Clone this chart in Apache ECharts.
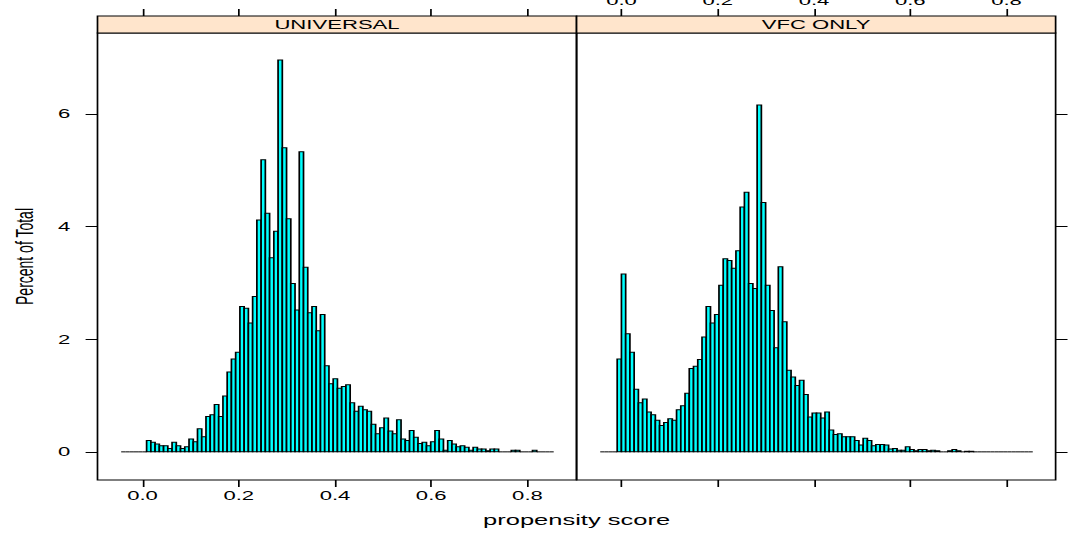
<!DOCTYPE html>
<html>
<head>
<meta charset="utf-8">
<title>propensity score</title>
<script src="https://cdn.jsdelivr.net/npm/echarts@6/dist/echarts.min.js"></script>
<style>
  html, body { margin: 0; padding: 0; background: #fff; overflow: hidden; }
  /* the original lattice plot was stretched sideways, so draw it narrow and widen it */
  #main { width: 630px; height: 540px; transform: scaleX(1.7); transform-origin: 0 0; }
</style>
</head>
<body>
<div id="main"></div>
<script>
  // histogram breaks: 102 equal bins
  var binStart = -0.0443;
  var binWidth = 0.008812;

  var panels = ['UNIVERSAL', 'VFC ONLY'];
  var xTicks = [0, 0.2, 0.4, 0.6, 0.8];
  var yTicks = [0, 2, 4, 6];

  // percent of total per bin
  var universal = [
    0, 0, 0, 0, 0, 0, 0.20, 0.17, 0.14, 0.11,
    0.11, 0.06, 0.17, 0.11, 0.06, 0.09, 0.23, 0.18, 0.41, 0.27,
    0.63, 0.66, 0.84, 0.63, 0.99, 1.42, 1.65, 1.77, 2.58, 2.55,
    2.29, 2.76, 4.12, 5.19, 4.24, 3.45, 3.92, 6.96, 5.40, 4.14,
    2.99, 2.52, 5.33, 3.28, 2.47, 2.58, 2.15, 2.44, 1.53, 1.21,
    1.30, 1.13, 1.16, 1.19, 0.87, 0.72, 0.81, 0.75, 0.72, 0.49,
    0.32, 0.43, 0.60, 0.37, 0.32, 0.57, 0.23, 0.20, 0.38, 0.26,
    0.15, 0.17, 0.11, 0.18, 0.38, 0.23, 0.03, 0.20, 0.14, 0.09,
    0.11, 0.08, 0.03, 0.08, 0.05, 0.05, 0.02, 0.05, 0.05, 0,
    0, 0, 0.03, 0.03, 0, 0, 0, 0.03, 0, 0,
    0, 0
  ];
  var vfcOnly = [
    0, 0, 0, 0, 1.65, 3.16, 2.10, 1.77, 1.11, 0.87,
    0.94, 0.71, 0.66, 0.56, 0.47, 0.52, 0.59, 0.56, 0.75, 0.82,
    1.04, 1.48, 1.52, 1.64, 2.04, 2.58, 2.29, 2.44, 2.96, 3.43,
    3.40, 3.26, 3.57, 4.35, 4.61, 2.99, 2.90, 6.16, 4.43, 2.96,
    2.51, 1.85, 3.29, 2.31, 1.45, 1.33, 1.18, 1.27, 1.02, 0.62,
    0.69, 0.69, 0.60, 0.71, 0.39, 0.31, 0.32, 0.27, 0.27, 0.27,
    0.20, 0.12, 0.24, 0.20, 0.11, 0.13, 0.13, 0.12, 0.05, 0.06,
    0.03, 0.03, 0.09, 0.04, 0.02, 0.04, 0.04, 0.02, 0.03, 0.02,
    0, 0, 0.02, 0.04, 0.02, 0, 0.01, 0.01, 0, 0,
    0, 0, 0, 0, 0, 0, 0, 0, 0, 0,
    0, 0
  ];

  var font = "'Liberation Sans', Arial, Helvetica, sans-serif";
  var top0 = 33, panelH = 447, panelW = 281.8;
  var lefts = [57.35, 339.15];
  var stripTop = 16;

  function toBins(values) {
    return values.map(function (v, i) {
      return [binStart + i * binWidth, binStart + (i + 1) * binWidth, v];
    });
  }

  function renderBin(params, api) {
    var lo = api.coord([api.value(0), 0]);
    var hi = api.coord([api.value(1), api.value(2)]);
    if (api.value(2) === 0) {
      return {
        type: 'line',
        shape: { x1: lo[0], y1: lo[1], x2: hi[0], y2: lo[1] },
        style: { stroke: '#000', lineWidth: 1 }
      };
    }
    return {
      type: 'rect',
      shape: { x: lo[0], y: hi[1], width: hi[0] - lo[0], height: lo[1] - hi[1] },
      style: { fill: '#00ffff', stroke: '#000', lineWidth: 1 }
    };
  }

  function xAxis(grid, pos, labels) {
    return {
      type: 'value', gridIndex: grid, position: pos,
      offset: pos === 'top' ? top0 - stripTop : 0,
      min: -0.0935, max: 0.902,
      splitLine: { show: false },
      axisLine: { show: false, onZero: false },
      axisTick: { show: true, customValues: xTicks, length: 7, inside: false,
                  lineStyle: { color: '#000', width: 1 } },
      axisLabel: { show: labels, customValues: xTicks, margin: 9,
                   color: '#000', fontSize: 13, fontFamily: font,
                   formatter: function (v) { return v.toFixed(1); } }
    };
  }

  function yAxis(grid, pos, labels) {
    return {
      type: 'value', gridIndex: grid, position: pos,
      min: -0.5, max: 7.44,
      splitLine: { show: false },
      axisLine: { show: false, onZero: false },
      axisTick: { show: true, customValues: yTicks, length: 7,
                  lineStyle: { color: '#000', width: 1 } },
      axisLabel: { show: labels, customValues: yTicks, margin: 16,
                   color: '#000', fontSize: 13, fontFamily: font }
    };
  }

  var graphics = [];
  panels.forEach(function (name, i) {
    graphics.push({
      type: 'rect', z: 10,
      shape: { x: lefts[i], y: stripTop, width: panelW, height: top0 - stripTop },
      style: { fill: '#ffe5cc', stroke: '#000', lineWidth: 1 }
    });
    graphics.push({
      type: 'text', z: 11,
      x: lefts[i] + panelW / 2, y: (stripTop + top0) / 2 + 0.5,
      style: { text: name, fill: '#000', font: '13px ' + font,
               align: 'center', verticalAlign: 'middle' }
    });
  });
  graphics.push({
    type: 'text', x: lefts[1], y: 520,
    style: { text: 'propensity score', fill: '#000', font: '15px ' + font,
             align: 'center', verticalAlign: 'middle' }
  });
  graphics.push({
    type: 'text', x: 14.1, y: top0 + panelH / 2, rotation: Math.PI / 2,
    style: { text: 'Percent of Total', fill: '#000', font: '14px ' + font,
             align: 'center', verticalAlign: 'middle' }
  });

  var chart = echarts.init(document.getElementById('main'), null, { renderer: 'svg' });
  chart.setOption({
    animation: false,
    backgroundColor: '#fff',
    grid: lefts.map(function (l) {
      return { left: l, top: top0, width: panelW, height: panelH,
               outerBoundsMode: 'none',
               show: true, borderColor: '#000', borderWidth: 1,
               backgroundColor: 'transparent' };
    }),
    xAxis: [xAxis(0, 'bottom', true), xAxis(1, 'bottom', false),
            xAxis(0, 'top', false), xAxis(1, 'top', true)],
    yAxis: [yAxis(0, 'left', true), yAxis(1, 'right', false)],
    graphic: graphics,
    series: [
      { type: 'custom', xAxisIndex: 0, yAxisIndex: 0, renderItem: renderBin,
        data: toBins(universal), clip: false },
      { type: 'custom', xAxisIndex: 1, yAxisIndex: 1, renderItem: renderBin,
        data: toBins(vfcOnly), clip: false }
    ]
  });
</script>
</body>
</html>
